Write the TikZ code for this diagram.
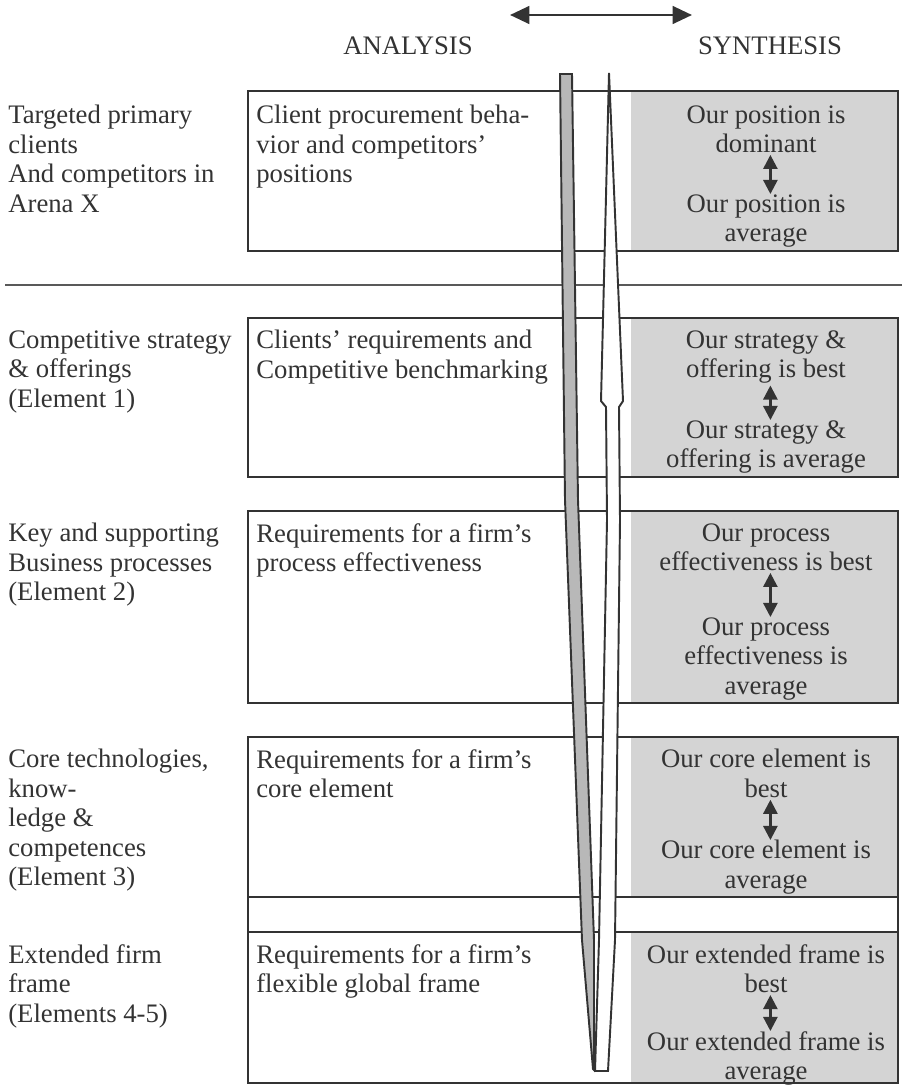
\documentclass[tikz,border=0pt]{standalone}
\usepackage{fontspec}
\setmainfont{Liberation Serif}
\usetikzlibrary{arrows.meta}
\definecolor{ink}{gray}{0.2}
\definecolor{cellgrey}{gray}{0.83}
\definecolor{bar}{gray}{0.72}
\tikzset{
  box/.style={draw=ink, line width=1.1pt},
  lbl/.style={anchor=north west, inner sep=0pt, align=left, text=ink},
  res/.style={anchor=north, inner sep=0pt, align=center, text=ink},
  swing/.style={ink, line width=1.4pt, {Triangle[length=8pt,width=8pt]}-{Triangle[length=8pt,width=8pt]}},
}
\begin{document}
\begin{tikzpicture}[x=0.02cm, y=-0.02cm, font=\fontsize{15.2}{16.8}\selectfont]
  \useasboundingbox (0,0) rectangle (906,1088);

  % headings and the two-way arrow over them
  \coordinate (west) at (510,15);
  \coordinate (east) at (692,15);
  \draw[ink, line width=1.5pt, {Triangle[length=11pt,width=10pt]}-{Triangle[length=11pt,width=10pt]}] (west) -- (east);
  \node[anchor=base, inner sep=0pt, text=ink] (ana) at (408,55) {ANALYSIS};
  \node[anchor=base, inner sep=0pt, text=ink] (syn) at (770,55) {SYNTHESIS};

  % rows, grey synthesis cells first
  \foreach \t/\b in {91/251, 318/477, 511/703, 737/897, 932/1083}{
    \fill[cellgrey] (631,\t) rectangle (897,\b);
    \draw[box] (248,\t) rectangle (898,\b);
  }
  \draw[box] (248,897) rectangle (898,932);
  \draw[gray!70!black, line width=0.8pt] (5,285) -- (902,285);

  % analysis goes down ...
  \draw[ink, line width=1.1pt, fill=bar] (560,74) -- (572,74) -- (578,500) -- (594,940)
    -- (594,1070) -- (593,1069) -- (582,940) -- (565,500) -- cycle;
  % ... synthesis comes back up
  \draw[ink, line width=1.1pt, fill=white] (609,73) -- (601,401) -- (606,407) -- (607,520)
    -- (599,940) -- (595,1071) -- (608,1071) -- (615,940) -- (620,520) -- (619,407)
    -- (623,401) -- cycle;

  % row 1
  \node[lbl] (arena) at (8,105) {Targeted primary\\clients\\And competitors in\\Arena X};
  \node[lbl] (a1) at (256,105) {Client procurement beha-\\vior and competitors’\\positions};
  \node[res] (top1) at (766,105) {Our position is\\dominant};
  \node[res] (low1) at (766,194) {Our position is\\average};

  % row 2
  \node[lbl] (el1) at (8,330) {Competitive strategy\\\& offerings\\(Element 1)};
  \node[lbl] (a2) at (256,330) {Clients’ requirements and\\Competitive benchmarking};
  \node[res] (top2) at (766,330) {Our strategy \&\\offering is best};
  \node[res] (low2) at (766,420) {Our strategy \&\\offering is average};

  % row 3
  \node[lbl] (el2) at (8,523) {Key and supporting\\Business processes\\(Element 2)};
  \node[lbl] (a3) at (256,523) {Requirements for a firm’s\\process effectiveness};
  \node[res] (top3) at (766,523) {Our process\\effectiveness is best};
  \node[res] (low3) at (766,617) {Our process\\effectiveness is\\average};

  % row 4
  \node[lbl] (el3) at (8,749) {Core technologies,\\know-\\ledge \&\\competences\\(Element 3)};
  \node[lbl] (a4) at (256,749) {Requirements for a firm’s\\core element};
  \node[res] (top4) at (766,749) {Our core element is\\best};
  \node[res] (low4) at (766,840) {Our core element is\\average};

  % row 5
  \node[lbl] (el45) at (8,944) {Extended firm\\frame\\(Elements 4-5)};
  \node[lbl] (a5) at (256,944) {Requirements for a firm’s\\flexible global frame};
  \node[res] (top5) at (766,944) {Our extended frame is\\best};
  \node[res] (low5) at (766,1031) {Our extended frame is\\average};

  % best <-> average
  \foreach \i in {1,...,5}
    \draw[swing] ([xshift=2.5pt,yshift=-1pt]top\i.south) -- ([xshift=2.5pt]low\i.north);
\end{tikzpicture}
\end{document}
